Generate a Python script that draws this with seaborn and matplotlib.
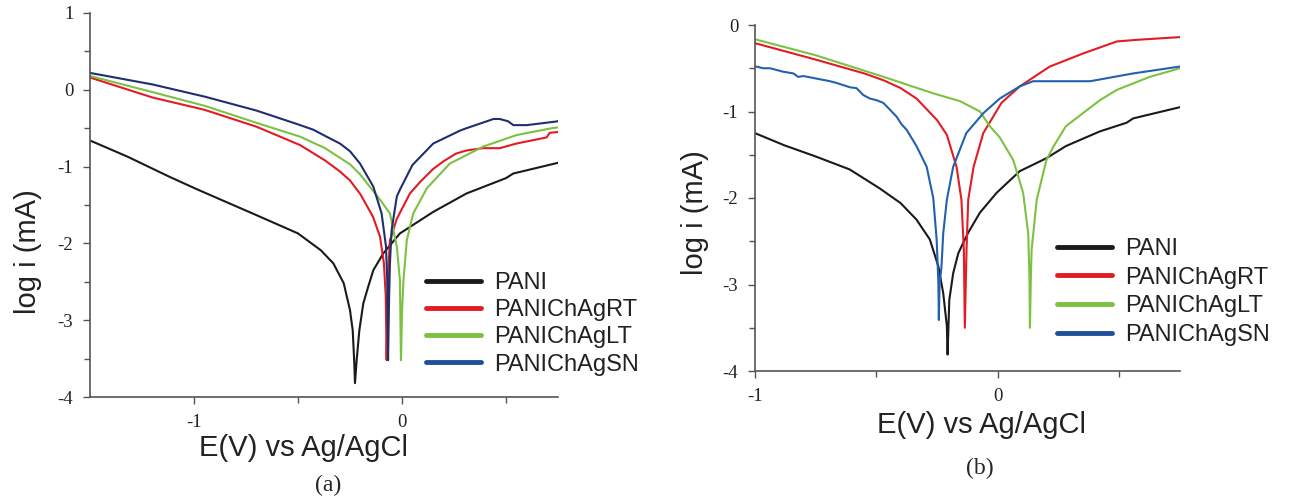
import numpy as np
import pandas as pd
import seaborn as sns
import matplotlib.pyplot as plt
from matplotlib.ticker import FixedLocator

# ---- panel (a) data: E (V vs Ag/AgCl) and log i (mA)
a_pani_E = [-1.50, -1.32, -1.12, -0.99, -0.88, -0.71, -0.50, -0.39, -0.33, -0.28, -0.25,
            -0.237, -0.23, -0.226, -0.218, -0.205, -0.186, -0.162, -0.138, -0.09, -0.01,
            0.15, 0.31, 0.50, 0.535, 0.72, 0.75]
a_pani_y = [-0.66, -0.87, -1.13, -1.29, -1.42, -1.62, -1.87, -2.09, -2.26, -2.52, -2.87,
            -3.13, -3.52, -3.82, -3.52, -3.13, -2.78, -2.56, -2.35, -2.13, -1.87,
            -1.59, -1.35, -1.15, -1.09, -0.97, -0.95]

a_rt_E = [-1.50, -1.20, -0.95, -0.70, -0.49, -0.37, -0.30, -0.25, -0.20, -0.14, -0.106, -0.087,
          -0.078, -0.074, -0.070, -0.065, -0.058, -0.025, 0.038, 0.087, 0.15, 0.20, 0.26,
          0.31, 0.39, 0.47, 0.55, 0.695, 0.71, 0.75]
a_rt_y = [0.16, -0.10, -0.26, -0.48, -0.72, -0.92, -1.06, -1.18, -1.36, -1.65, -1.91, -2.26,
          -2.69, -3.52, -2.90, -2.30, -1.96, -1.68, -1.35, -1.20, -1.03, -0.93, -0.83,
          -0.79, -0.76, -0.76, -0.70, -0.62, -0.56, -0.55]

a_lt_E = [-1.50, -1.20, -0.947, -0.70, -0.49, -0.37, -0.33, -0.25, -0.202, -0.106, -0.058, -0.025,
          -0.010, -0.005, 0.000, 0.007, 0.023, 0.054, 0.12, 0.23, 0.39, 0.55, 0.72, 0.75]
a_lt_y = [0.18, -0.03, -0.21, -0.43, -0.61, -0.76, -0.83, -0.97, -1.10, -1.43, -1.61, -2.04,
          -2.48, -3.52, -2.90, -2.48, -1.96, -1.61, -1.28, -0.96, -0.74, -0.59, -0.50, -0.49]

a_sn_E = [-1.50, -1.20, -0.947, -0.70, -0.50, -0.426, -0.37, -0.298, -0.25, -0.202, -0.138,
          -0.098, -0.077, -0.071, -0.067, -0.062, -0.058, -0.050, -0.025, -0.01, 0.05, 0.15,
          0.28, 0.31, 0.44, 0.47, 0.51, 0.535, 0.60, 0.72, 0.75]
a_sn_y = [0.22, 0.07, -0.09, -0.27, -0.45, -0.52, -0.60, -0.70, -0.80, -0.96, -1.26,
          -1.61, -2.04, -2.48, -3.52, -2.70, -2.26, -1.83, -1.39, -1.30, -0.98, -0.70,
          -0.53, -0.50, -0.38, -0.38, -0.41, -0.46, -0.46, -0.42, -0.41]

# ---- panel (b) data
b_pani_E = [-1.00, -0.88, -0.75, -0.61, -0.486, -0.40, -0.335, -0.28, -0.245, -0.225, -0.21,
            -0.207, -0.20, -0.184, -0.163, -0.143, -0.122, -0.074, -0.005, 0.09, 0.20, 0.28,
            0.42, 0.53, 0.557, 0.75]
b_pani_y = [-1.25, -1.39, -1.52, -1.67, -1.89, -2.06, -2.25, -2.48, -2.79, -3.10, -3.48,
            -3.81, -3.18, -2.87, -2.64, -2.52, -2.40, -2.17, -1.94, -1.69, -1.54, -1.40,
            -1.23, -1.13, -1.08, -0.95]

b_rt_E = [-1.00, -0.75, -0.55, -0.47, -0.40, -0.335, -0.25, -0.21, -0.17, -0.15, -0.14, -0.136,
          -0.129, -0.122, -0.10, -0.06, 0.015, 0.09, 0.214, 0.35, 0.49, 0.58, 0.75]
b_rt_y = [-0.21, -0.40, -0.56, -0.64, -0.73, -0.85, -1.10, -1.27, -1.64, -2.02, -2.60, -3.50,
          -2.60, -2.02, -1.64, -1.25, -0.90, -0.71, -0.48, -0.33, -0.19, -0.17, -0.14]

b_lt_E = [-1.00, -0.75, -0.47, -0.266, -0.156, -0.074, -0.033, 0.008, 0.063, 0.104, 0.125,
          0.130, 0.132, 0.136, 0.139, 0.16, 0.20, 0.23, 0.28, 0.35, 0.42, 0.49, 0.625, 0.75]
b_lt_y = [-0.165, -0.35, -0.60, -0.79, -0.88, -1.00, -1.17, -1.30, -1.56, -1.94, -2.41,
          -2.90, -3.50, -2.90, -2.60, -2.02, -1.56, -1.40, -1.17, -1.02, -0.87, -0.75, -0.60, -0.50]

b_sn_E = [-0.996, -0.966, -0.938, -0.884, -0.842, -0.822, -0.801, -0.746, -0.691, -0.664,
          -0.609, -0.582, -0.554, -0.527, -0.499, -0.472, -0.444, -0.417, -0.396, -0.376,
          -0.335, -0.293, -0.266, -0.252, -0.245, -0.243, -0.240, -0.232, -0.225, -0.21,
          -0.184, -0.13, -0.06, 0.008, 0.09, 0.145, 0.38, 0.40, 0.557, 0.75]
b_sn_y = [-0.48, -0.50, -0.50, -0.54, -0.56, -0.60, -0.59, -0.62, -0.65, -0.67,
          -0.72, -0.73, -0.81, -0.85, -0.87, -0.90, -0.98, -1.06, -1.15, -1.21,
          -1.40, -1.64, -2.00, -2.48, -2.98, -3.41, -3.00, -2.79, -2.41, -2.02,
          -1.64, -1.25, -1.02, -0.85, -0.71, -0.65, -0.65, -0.64, -0.56, -0.48]

samples = ["PANI", "PANIChAgRT", "PANIChAgLT", "PANIChAgSN"]
a_yticks = [1, 0, -1, -2, -3, -4]
a_yticklabels = ["1", "0", "-1", "-2", "-3", "-4"]
b_yticks = [0, -1, -2, -3, -4]
b_yticklabels = ["0", "-1", "-2", "-3", "-4"]
xticks = [-1, 0]
xticklabels = ["-1", "0"]


def long_df(pairs):
    frames = []
    for name, (e, y) in zip(samples, pairs):
        frames.append(pd.DataFrame({"E": e, "logi": y, "sample": name}))
    return pd.concat(frames, ignore_index=True)


df_a = long_df([(a_pani_E, a_pani_y), (a_rt_E, a_rt_y), (a_lt_E, a_lt_y), (a_sn_E, a_sn_y)])
df_b = long_df([(b_pani_E, b_pani_y), (b_rt_E, b_rt_y), (b_lt_E, b_lt_y), (b_sn_E, b_sn_y)])

sns.set_style("white")
plt.rcParams["font.family"] = ["Liberation Sans", "DejaVu Sans"]
plt.rcParams["axes.unicode_minus"] = False

pal_a = {"PANI": "#1a1a1a", "PANIChAgRT": "#e31b23", "PANIChAgLT": "#7cc142", "PANIChAgSN": "#1e2f6e"}
pal_b = {"PANI": "#1a1a1a", "PANIChAgRT": "#e31b23", "PANIChAgLT": "#7cc142", "PANIChAgSN": "#2361b0"}
leg_cols = {"PANI": "#1a1a1a", "PANIChAgRT": "#e31b23", "PANIChAgLT": "#7cc142", "PANIChAgSN": "#1f4f9c"}

W, H = 1295, 499
fig = plt.figure(figsize=(12.95, 4.99), dpi=100)
ax_a = fig.add_axes([90 / W, 1 - 397 / H, 468 / W, 384 / H])
ax_b = fig.add_axes([755 / W, 1 - 371 / H, 425 / W, 346 / H])

serif = ["Liberation Serif", "DejaVu Serif"]


def style(ax, df, pal, xlim, ylim, yt, ytl, xlab_pos, ylab_pos, leg_anchor, spacing):
    sns.lineplot(data=df, x="E", y="logi", hue="sample", hue_order=samples, palette=pal,
                 units="sample", estimator=None, sort=False, linewidth=1.5, ax=ax, legend=False)
    ax.set_xlim(*xlim)
    ax.set_ylim(*ylim)
    sns.despine(ax=ax)
    for s in ["left", "bottom"]:
        ax.spines[s].set_color("#555555")
        ax.spines[s].set_linewidth(1.2)
    ax.xaxis.set_major_locator(FixedLocator(xticks))
    ax.set_xticklabels(xticklabels)
    ax.xaxis.set_minor_locator(FixedLocator([-0.5, 0.5]))
    ax.yaxis.set_major_locator(FixedLocator(yt))
    ax.set_yticklabels(ytl)
    ax.yaxis.set_minor_locator(FixedLocator([v + 0.5 for v in yt[1:]]))
    ax.tick_params(which="both", direction="out", color="#555555", width=1.0,
                   bottom=True, left=True, labelsize=13.5, labelcolor="#222222")
    ax.tick_params(which="major", length=5, pad=7)
    ax.tick_params(which="minor", length=4)
    for t in ax.get_xticklabels() + ax.get_yticklabels():
        t.set_family(serif)
    ax.set_xlabel("E(V) vs Ag/AgCl", fontsize=21, va="center", color="#222222")
    ax.set_ylabel("log i (mA)", fontsize=21, va="center", color="#222222")
    ax.xaxis.set_label_coords(*xlab_pos)
    ax.yaxis.set_label_coords(*ylab_pos)
    handles = [plt.Line2D([], [], color=leg_cols[s], lw=3.5) for s in samples]
    ax.legend(handles, samples, loc="upper left", bbox_to_anchor=leg_anchor,
              bbox_transform=fig.transFigure, frameon=False, fontsize=17,
              handlelength=2.35, handletextpad=0.55, labelspacing=spacing,
              borderpad=0, borderaxespad=0, labelcolor="#222222")


style(ax_a, df_a, pal_a, (-1.5, 0.75), (-4, 1), a_yticks, a_yticklabels,
      (0.457, -0.133), (-0.132, 0.378), (426 / W, 1 - 272 / H), 0.22)
style(ax_b, df_b, pal_b, (-1.0, 0.75), (-4, 0), b_yticks, b_yticklabels,
      (0.532, -0.156), (-0.141, 0.457), (1057 / W, 1 - 238 / H), 0.28)

fig.text(328 / W, 1 - 485 / H, "(a)", ha="center", va="center", fontsize=17, family=serif)
fig.text(980 / W, 1 - 468 / H, "(b)", ha="center", va="center", fontsize=17, family=serif)

fig.savefig("out.png", dpi=100)
